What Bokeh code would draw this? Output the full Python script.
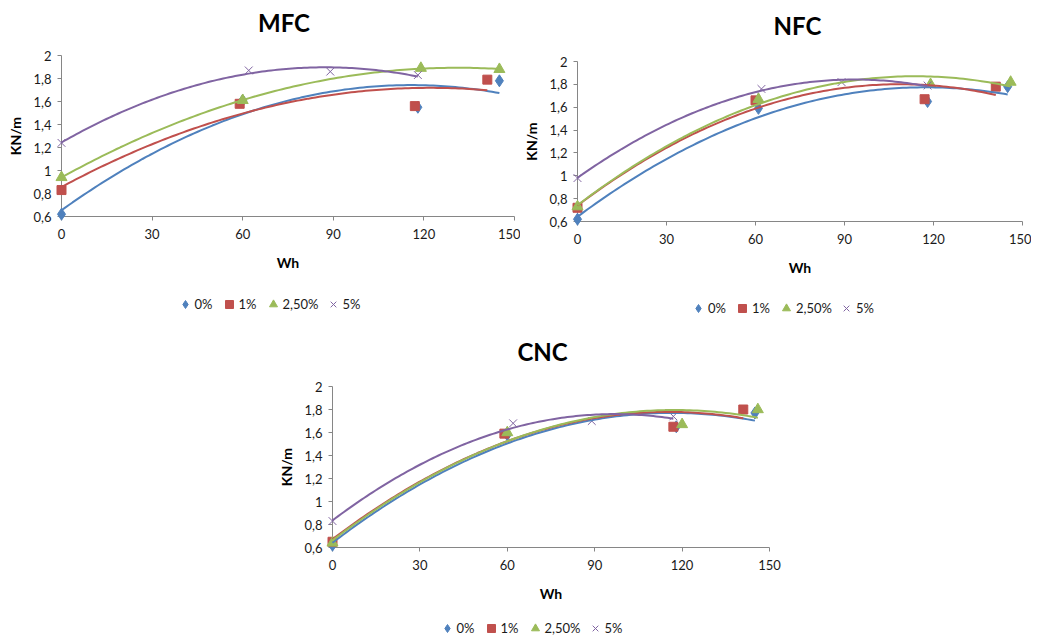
import numpy as np
from bokeh.plotting import figure
from bokeh.models import (Range1d, FixedTicker, CustomJSTickFormatter, Legend,
                          LegendItem, Spacer)
from bokeh.layouts import column, row
from bokeh.embed import file_html
from bokeh.resources import INLINE

SERIES = ["0%", "1%", "2,50%", "5%"]
COLORS = ["#4F81BD", "#C0504D", "#9BBB59", "#8064A2"]
MARKERS = ["diamond", "square", "triangle", "x"]
X_TICKS = [0, 30, 60, 90, 120, 150]
Y_TICKS = [0.6, 0.8, 1.0, 1.2, 1.4, 1.6, 1.8, 2.0]

# MFC
mfc_x_0 = [0, 60, 118, 145]
mfc_y_0 = [0.62, 1.61, 1.55, 1.78]
mfc_x_1 = [0, 59, 117, 141]
mfc_y_1 = [0.83, 1.58, 1.56, 1.79]
mfc_x_2 = [0, 60, 119, 145]
mfc_y_2 = [0.94, 1.61, 1.89, 1.88]
mfc_x_3 = [0, 62, 89, 118]
mfc_y_3 = [1.24, 1.87, 1.86, 1.83]

# NFC
nfc_x_0 = [0, 61, 118, 145]
nfc_y_0 = [0.62, 1.59, 1.65, 1.78]
nfc_x_1 = [0, 60, 117, 141]
nfc_y_1 = [0.72, 1.66, 1.67, 1.78]
nfc_x_2 = [0, 61, 119, 146]
nfc_y_2 = [0.73, 1.67, 1.80, 1.82]
nfc_x_3 = [0, 62, 89, 118]
nfc_y_3 = [0.98, 1.76, 1.82, 1.79]

# CNC
cnc_x_0 = [0, 60, 118, 145]
cnc_y_0 = [0.62, 1.58, 1.65, 1.77]
cnc_x_1 = [0, 59, 117, 141]
cnc_y_1 = [0.65, 1.59, 1.65, 1.80]
cnc_x_2 = [0, 60, 120, 146]
cnc_y_2 = [0.64, 1.60, 1.67, 1.80]
cnc_x_3 = [0, 62, 89, 117]
cnc_y_3 = [0.83, 1.68, 1.70, 1.74]

FONT = "Lato"
AXIS_COLOR = "#868686"
TEXT_COLOR = "#1a1a1a"
SIZES = {"diamond": 12, "square": 9, "triangle": 11, "x": 11}


def add_markers(p, i, x, y, level="overlay"):
    m = MARKERS[i]
    if m == "x":
        return p.scatter(x, y, marker=m, size=SIZES[m], line_color=COLORS[i],
                         line_width=1, level=level)
    return p.scatter(x, y, marker=m, size=SIZES[m], fill_color=COLORS[i],
                     line_color=COLORS[i], level=level)


def make_title(text, width):
    t = figure(width=width, height=34, x_range=Range1d(0, 1),
               y_range=Range1d(0, 1), x_axis_type=None, y_axis_type=None,
               min_border=0, output_backend="svg", toolbar_location=None)
    t.outline_line_color = None
    t.grid.visible = False
    t.title.text = text
    t.title.align = "center"
    t.title.vertical_align = "middle"
    t.title.standoff = 0
    t.title.text_font = FONT
    t.title.text_font_size = "24px"
    t.title.text_font_style = "bold"
    t.title.text_color = "#000000"
    return t


def make_chart(xs, ys, fw, fh, bl, br, bt, bb):
    p = figure(frame_width=fw, frame_height=fh, min_border_left=bl,
               min_border_right=br, min_border_top=bt, min_border_bottom=bb,
               x_range=Range1d(0, 150), y_range=Range1d(0.6, 2.0),
               output_backend="svg", toolbar_location=None)
    p.outline_line_color = None
    p.grid.visible = False

    for ax in (p.xaxis[0], p.yaxis[0]):
        ax.axis_line_color = AXIS_COLOR
        ax.major_tick_line_color = AXIS_COLOR
        ax.minor_tick_line_color = None
        ax.major_tick_in = 0
        ax.major_tick_out = 4
        ax.major_label_text_font = FONT
        ax.major_label_text_font_size = "13px"
        ax.major_label_text_color = TEXT_COLOR
        ax.axis_label_text_font = FONT
        ax.axis_label_text_font_style = "bold"
        ax.axis_label_text_color = "#000000"
    p.xaxis.ticker = FixedTicker(ticks=X_TICKS)
    p.yaxis.ticker = FixedTicker(ticks=Y_TICKS)
    p.yaxis.formatter = CustomJSTickFormatter(
        code="return (Math.round(tick*10)/10).toString().replace('.', ',');")
    p.xaxis.axis_label = "Wh"
    p.xaxis.axis_label_text_font_size = "14px"
    p.xaxis.major_label_standoff = 8
    p.xaxis.axis_label_standoff = 12
    p.yaxis.axis_label = "KN/m"
    p.yaxis.axis_label_text_font_size = "14px"
    p.yaxis.major_label_standoff = 6
    p.yaxis.axis_label_standoff = 6

    for i in range(4):
        x = np.array(xs[i], dtype=float)
        y = np.array(ys[i], dtype=float)
        add_markers(p, i, x, y)
    for i in range(4):
        x = np.array(xs[i], dtype=float)
        y = np.array(ys[i], dtype=float)
        c = np.polyfit(x, y, 2)
        xx = np.linspace(x.min(), x.max(), 120)
        p.line(xx, np.polyval(c, xx), line_color=COLORS[i], line_width=2,
               level="overlay")
    return p


def make_legend(width, height):
    q = figure(width=width, height=height, x_range=Range1d(0, 1),
               y_range=Range1d(0, 1), x_axis_type=None, y_axis_type=None,
               min_border=0, output_backend="svg", toolbar_location=None)
    q.outline_line_color = None
    q.grid.visible = False
    items = []
    for i in range(4):
        # legend proxy only: its single point lies outside the clipped frame
        r = add_markers(q, i, [5.0], [5.0], level="glyph")
        items.append(LegendItem(label=SERIES[i], renderers=[r]))
    leg = Legend(items=items, orientation="horizontal", location="center",
                 border_line_color=None, background_fill_alpha=0,
                 padding=0, margin=0, spacing=4, glyph_width=20,
                 glyph_height=22, label_standoff=0,
                 label_text_font=FONT, label_text_font_size="13px",
                 label_text_color=TEXT_COLOR, label_height=22)
    q.add_layout(leg)
    return q


tA = make_title("MFC", 512)
pA = make_chart([mfc_x_0, mfc_x_1, mfc_x_2, mfc_x_3],
                [mfc_y_0, mfc_y_1, mfc_y_2, mfc_y_3],
                453, 161, 61, 6, 15, 74)
lA = make_legend(482, 28)

tB = make_title("NFC", 506)
pB = make_chart([nfc_x_0, nfc_x_1, nfc_x_2, nfc_x_3],
                [nfc_y_0, nfc_y_1, nfc_y_2, nfc_y_3],
                445, 160, 55, 9, 18, 70)
lB = make_legend(476, 34)

tC = make_title("CNC", 495)
pC = make_chart([cnc_x_0, cnc_x_1, cnc_x_2, cnc_x_3],
                [cnc_y_0, cnc_y_1, cnc_y_2, cnc_y_3],
                437, 161, 52, 18, 17, 60)
lC = make_legend(472, 42)

layout = column(
    row(column(Spacer(width=10, height=6), tA, pA, lA),
        column(Spacer(width=10, height=9), tB, pB, lB)),
    row(Spacer(width=275, height=300),
        column(Spacer(width=10, height=10), tC, pC, lC)))
open("out.html", "w").write(file_html(layout, INLINE))
